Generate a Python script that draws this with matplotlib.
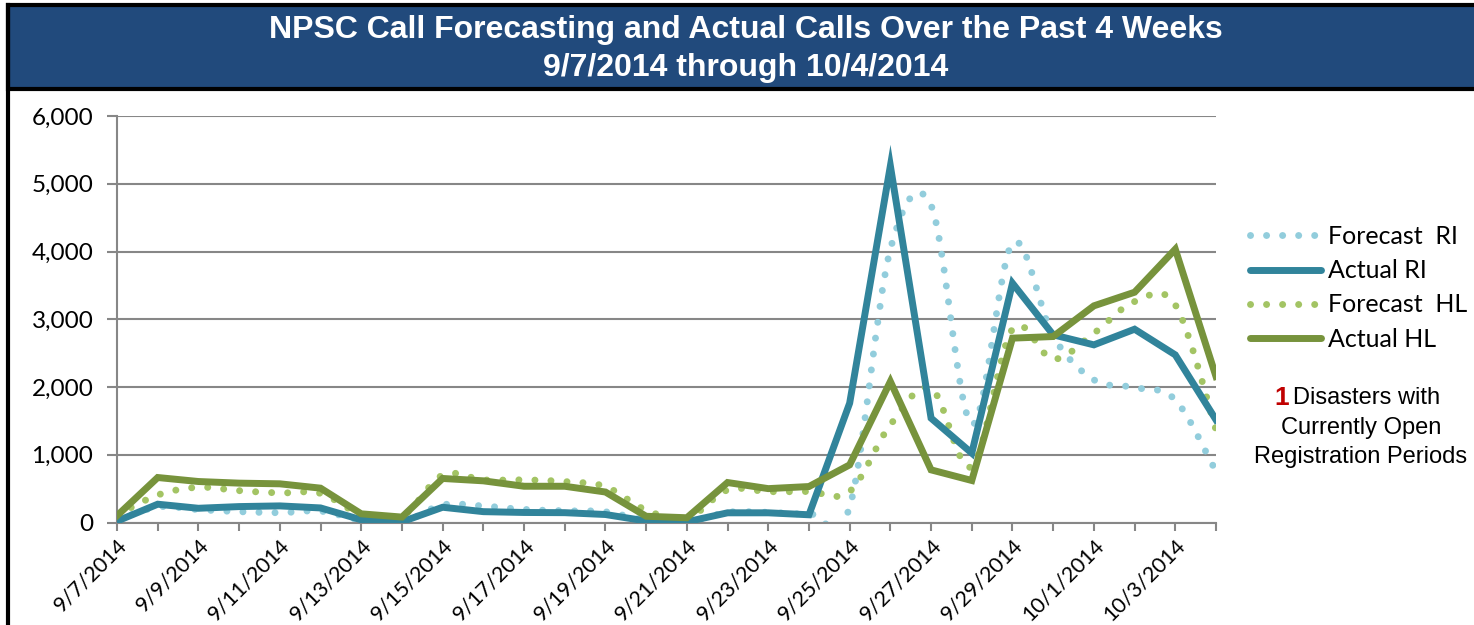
import matplotlib
matplotlib.use("Agg")
import matplotlib.pyplot as plt
from matplotlib.path import Path
from matplotlib.patches import PathPatch, Rectangle
from matplotlib.lines import Line2D
import numpy as np

# ---------------- data ----------------
dates = ["9/7/2014", "9/8/2014", "9/9/2014", "9/10/2014", "9/11/2014", "9/12/2014",
         "9/13/2014", "9/14/2014", "9/15/2014", "9/16/2014", "9/17/2014", "9/18/2014",
         "9/19/2014", "9/20/2014", "9/21/2014", "9/22/2014", "9/23/2014", "9/24/2014",
         "9/25/2014", "9/26/2014", "9/27/2014", "9/28/2014", "9/29/2014", "9/30/2014",
         "10/1/2014", "10/2/2014", "10/3/2014", "10/4/2014"]

forecast_ri = [35, 230, 190, 160, 145, 168, 35, 10, 260, 243, 193, 173, 158, 35,
               10, 150, 150, 130, 230, 4034, 4680, 1450, 4122, 2750, 2106, 1993, 1810, 753]
actual_ri = [20, 270, 210, 235, 245, 215, 40, 10, 225, 160, 148, 145, 118, 22,
             10, 143, 143, 114, 1762, 5263, 1540, 1024, 3532, 2770, 2622, 2853, 2474, 1515]
forecast_hl = [110, 406, 520, 470, 436, 430, 120, 90, 700, 629, 629, 604, 530, 183,
               60, 480, 455, 458, 458, 1442, 1983, 827, 2853, 2411, 2794, 3261, 3212, 1368]
actual_hl = [100, 664, 605, 581, 571, 507, 128, 80, 650, 615, 535, 535, 450, 92,
             70, 590, 500, 531, 851, 2081, 777, 620, 2721, 2745, 3198, 3399, 4034, 2155]

series_labels = ["Forecast  RI", "Actual RI", "Forecast  HL", "Actual HL"]
yticks = [0, 1000, 2000, 3000, 4000, 5000, 6000]

title_text = "NPSC Call Forecasting and Actual Calls Over the Past 4 Weeks\n9/7/2014 through 10/4/2014"

# ---------------- style ----------------
C_FRI = "#92CDDC"
C_ARI = "#31849B"
C_FHL = "#A3C464"
C_AHL = "#77933C"
W, H = 1474, 625
FONT = ["Lato", "DejaVu Sans"]
ARIAL = ["Liberation Sans", "DejaVu Sans"]

plt.rcParams["font.family"] = FONT

fig = plt.figure(figsize=(W / 100, H / 100), dpi=100)
fig.patch.set_facecolor("white")

ax = fig.add_axes([117 / W, 1 - 522.5 / H, (1216 - 117) / W, (522.5 - 116) / H])

x = np.arange(len(dates))


def smooth_path(xs, ys):
    pts = np.column_stack([xs, ys]).astype(float)
    n = len(pts)
    verts = [pts[0]]
    codes = [Path.MOVETO]
    for i in range(n - 1):
        p0 = pts[i - 1] if i > 0 else pts[i]
        p1 = pts[i]
        p2 = pts[i + 1]
        p3 = pts[i + 2] if i + 2 < n else pts[i + 1]
        c1 = p1 + (p2 - p0) / 6.0
        c2 = p2 - (p3 - p1) / 6.0
        verts += [c1, c2, p2]
        codes += [Path.CURVE4] * 3
    return Path(verts, codes)


dot_style = (0, (0.01, 2.3))
lw_dot = 5.0
lw_line = 5.0

for ys, col, z in [(forecast_ri, C_FRI, 2), (forecast_hl, C_FHL, 2)]:
    pp = PathPatch(smooth_path(x, ys), fill=False, edgecolor=col, lw=lw_dot,
                   linestyle=dot_style, capstyle="round", zorder=z)
    ax.add_patch(pp)

ax.plot(x, actual_ri, color=C_ARI, lw=lw_line, solid_joinstyle="miter", zorder=3)
ax.plot(x, actual_hl, color=C_AHL, lw=lw_line, solid_joinstyle="miter", zorder=4)

ax.set_xlim(0, len(dates) - 1)
ax.set_ylim(0, 6000)
ax.set_yticks(yticks)
ax.set_yticklabels([f"{v:,}" for v in yticks])
ax.set_xticks(x[::2])
ax.set_xticklabels(dates[::2], rotation=45, ha="right", rotation_mode="anchor")
ax.set_xticks(x, minor=True)

ax.grid(axis="y", color="#878787", lw=1.5, zorder=0)
ax.set_axisbelow(True)
for s in ["top", "right"]:
    ax.spines[s].set_visible(False)
for s in ["left", "bottom"]:
    ax.spines[s].set_color("#878787")
    ax.spines[s].set_linewidth(1.5)
ax.tick_params(axis="y", length=7, width=1.5, color="#878787", labelsize=17.5, pad=10)
ax.tick_params(axis="x", which="both", length=6, width=1.5, color="#878787",
               labelsize=15.5, pad=3)

# legend
handles = [
    Line2D([], [], color=C_FRI, lw=lw_dot, linestyle=dot_style, dash_capstyle="round"),
    Line2D([], [], color=C_ARI, lw=lw_line, solid_capstyle="round"),
    Line2D([], [], color=C_FHL, lw=lw_dot, linestyle=dot_style, dash_capstyle="round"),
    Line2D([], [], color=C_AHL, lw=lw_line, solid_capstyle="round"),
]
leg = fig.legend(handles, series_labels, loc="upper left",
                 bbox_to_anchor=(1250 / W, 1 - 225 / H), frameon=False,
                 fontsize=18, handlelength=2.85, handletextpad=0.25,
                 labelspacing=0.45, borderpad=0, borderaxespad=0)

# disasters note
fig.text(1274 / W, 1 - 398 / H, "1", color="#C00000", fontsize=19, fontweight="bold",
         ha="left", va="center", family=ARIAL)
fig.text(1293 / W, 1 - 398 / H, "Disasters with", color="black", fontsize=17,
         ha="left", va="center", family=ARIAL)
fig.text(1361 / W, 1 - 428 / H, "Currently Open", color="black", fontsize=17,
         ha="center", va="center", family=ARIAL)
fig.text(1361 / W, 1 - 457 / H, "Registration Periods", color="black", fontsize=17,
         ha="center", va="center", family=ARIAL)

# title band
fig.patches.append(Rectangle((8 / W, 1 - 88.5 / H), 1.0, (88.5 - 5) / H,
                             transform=fig.transFigure, facecolor="#214A7C",
                             edgecolor="black", lw=3, zorder=0))
fig.lines.append(Line2D([8 / W, 8 / W], [0, 1 - 5 / H], transform=fig.transFigure,
                        color="black", lw=3))
fig.text(746 / W, 1 - 49 / H, title_text, color="white", fontsize=23,
         fontweight="bold", ha="center", va="center", linespacing=1.35,
         family=ARIAL)

fig.savefig("out.png", dpi=100, facecolor="white")
